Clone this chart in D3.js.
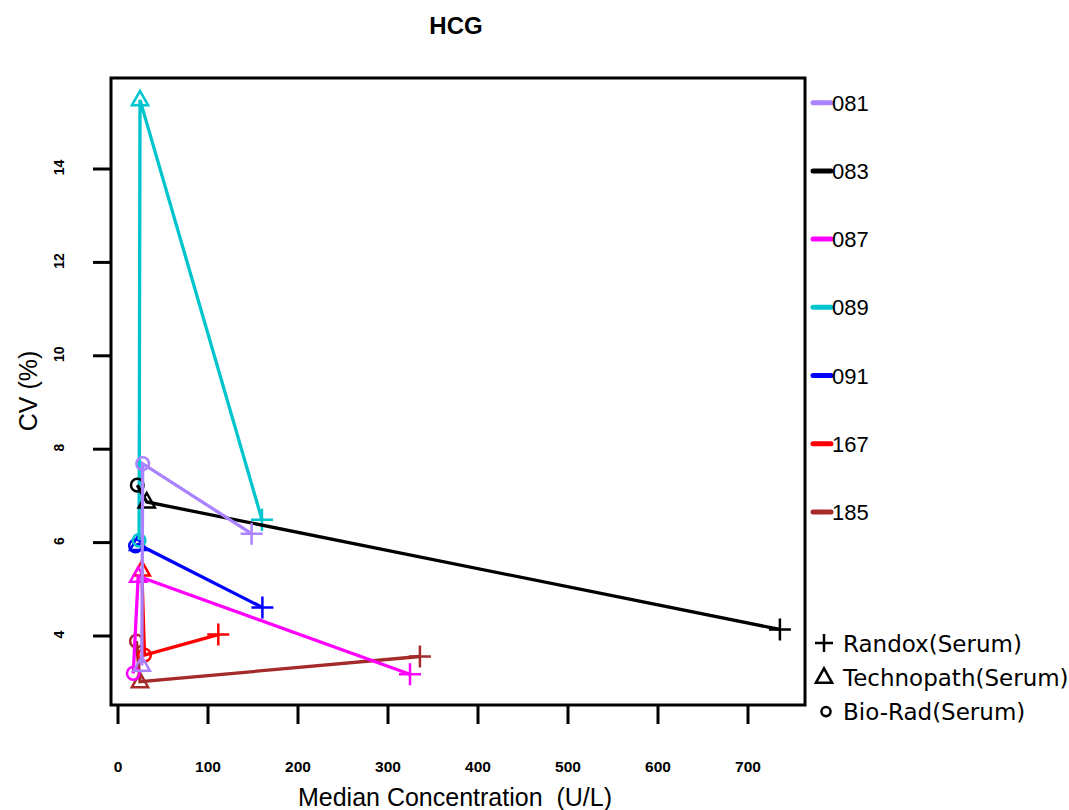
<!DOCTYPE html>
<html><head><meta charset="utf-8">
<script src="https://cdn.jsdelivr.net/npm/d3@7"></script>
<style>body{margin:0;background:#fff}text{font-family:"Liberation Sans",Arial,sans-serif}</style>
</head><body>
<svg id="c" width="1069" height="810"></svg>
<script>
const labs = ["081","083","087","089","091","167","185"];
const colors = ["#AB82FF","#000000","#FF00FF","#00C5CD","#0000FF","#FF0000","#A52A2A"];
const methods = ["Randox(Serum)","Technopath(Serum)","Bio-Rad(Serum)"];
// per lab: [Randox, Technopath, Bio-Rad] median concentration and CV
const conc = [
  [149, 27, 28],
  [736, 32.5, 22],
  [325, 23, 17.5],
  [160.5, 25, 24],
  [161, 23, 20],
  [112, 27, 30],
  [336, 25, 21]
];
const cv = [
  [6.18, 3.36, 7.68],
  [4.13, 6.86, 7.22],
  [3.17, 5.27, 3.19],
  [6.48, 15.47, 6.04],
  [4.60, 5.95, 5.92],
  [4.02, 5.40, 3.58],
  [3.55, 3.01, 3.88]
];
const xTicks = [0,100,200,300,400,500,600,700];
const yTicks = [4,6,8,10,12,14];

const svg = d3.select("#c");
const x = d3.scaleLinear().domain([0,700]).range([117.5,747.5]);
const y = d3.scaleLinear().domain([4,14]).range([635.5,168.5]);
const box = {l:111, r:805, t:78, b:705};

// title
svg.append("text").attr("x",456).attr("y",34).attr("text-anchor","middle")
  .attr("font-size",24).attr("font-weight","bold").text("HCG");

// x axis
const xa = svg.append("g").attr("transform",`translate(0,${box.b})`)
  .call(d3.axisBottom(x).tickValues(xTicks).tickSize(19).tickPadding(0).tickFormat(d3.format("d")));
xa.select(".domain").remove();
xa.selectAll("line").attr("stroke","#000").attr("stroke-width",3);
xa.selectAll("text").attr("font-size",15.5).attr("font-weight","bold").attr("fill","#000")
  .style("font-family","'Liberation Sans',Arial,sans-serif")
  .attr("y",67).attr("dy",null);
svg.append("text").attr("x",455).attr("y",806).attr("text-anchor","middle")
  .attr("font-size",25).style("white-space","pre").text("Median Concentration  (U/L)");

// y axis
const ya = svg.append("g").attr("transform",`translate(${box.l},0)`)
  .call(d3.axisLeft(y).tickValues(yTicks).tickSize(18).tickPadding(0).tickFormat(d3.format("d")));
ya.select(".domain").remove();
ya.selectAll("line").attr("stroke","#000").attr("stroke-width",3);
ya.selectAll("text").attr("font-size",14).attr("font-weight","bold").attr("fill","#000")
  .style("font-family","'Liberation Sans',Arial,sans-serif")
  .attr("x",null).attr("dy",null)
  .attr("transform","translate(-52,-1.5) rotate(-90)").attr("text-anchor","middle").attr("dominant-baseline","central");
svg.append("text").attr("transform","translate(37,391) rotate(-90)").attr("text-anchor","middle")
  .attr("font-size",25).text("CV (%)");

// plot box
svg.append("rect").attr("x",box.l).attr("y",box.t).attr("width",box.r-box.l).attr("height",box.b-box.t)
  .attr("fill","none").attr("stroke","#000").attr("stroke-width",3);

function marker(g, m, px, py, col, s){
  if(m===0){
    g.append("path").attr("d",`M${px-s},${py}H${px+s}M${px},${py-s}V${py+s}`)
      .attr("stroke",col).attr("stroke-width",2.5).attr("fill","none");
  } else if(m===1){
    const h = s*1.6;
    g.append("path").attr("d",`M${px},${py-h*0.62}L${px+s*0.9},${py+h*0.38}L${px-s*0.9},${py+h*0.38}Z`)
      .attr("stroke",col).attr("stroke-width",2.5).attr("fill","none");
  } else {
    g.append("circle").attr("cx",px).attr("cy",py).attr("r",s*0.7)
      .attr("stroke",col).attr("stroke-width",2.5).attr("fill","none");
  }
}

const line = d3.line().x(d=>x(d[0])).y(d=>y(d[1]));
const order = d3.range(labs.length).reverse();
order.forEach(i=>{
  const pts = [0,1,2].map(m=>[conc[i][m], cv[i][m], m]).sort((a,b)=>a[0]-b[0]);
  const g = svg.append("g");
  g.append("path").attr("d",line(pts)).attr("fill","none").attr("stroke",colors[i]).attr("stroke-width",3.3);
  pts.forEach(p=>marker(g,p[2],x(p[0]),y(p[1]),colors[i], p[2]===0?11:9));
});

// legend labs
labs.forEach((lab,i)=>{
  const cy = 102.7 + i*68.2;
  svg.append("line").attr("x1",813).attr("x2",831).attr("y1",cy).attr("y2",cy)
    .attr("stroke",colors[i]).attr("stroke-width",5).attr("stroke-linecap","round");
  svg.append("text").attr("x",832).attr("y",cy+8).attr("font-size",22).text(lab);
});
// legend methods
methods.forEach((m,i)=>{
  const cy = 643 + i*34.3;
  const g = svg.append("g");
  marker(g,i,824 + (i===2?2:0),cy,"#000", i===0?9:i===1?9:6.5);
  svg.append("text").attr("x",843).attr("y",cy+8.5).attr("font-size",23)
    .style("font-family","'DejaVu Sans',sans-serif").text(m);
});
</script>
</body></html>
